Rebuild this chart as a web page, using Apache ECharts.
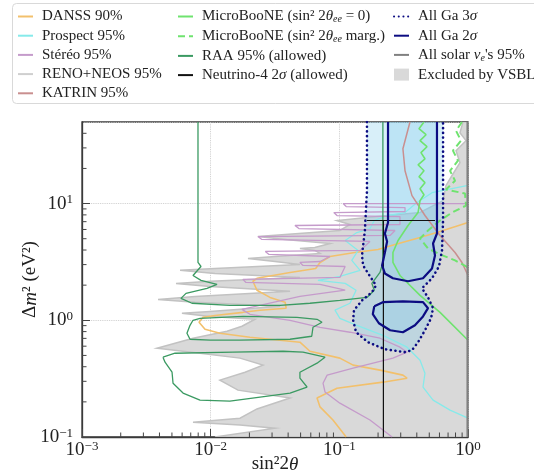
<!DOCTYPE html>
<html><head><meta charset="utf-8">
<script src="https://cdn.jsdelivr.net/npm/echarts@6/dist/echarts.min.js"></script>
<style>html,body{margin:0;padding:0;background:#fff}#c{width:534px;height:475px}</style>
</head><body><div id="c"></div>
<script>
// ---- data (sin^2 2theta , Delta m^2 [eV^2]) ----
const VSBL_X = [1.0,0.914,0.866,0.965,0.807,0.866,0.751,0.675,0.640,0.424,0.164,0.0959,0.121,0.101,0.0379,0.0233,0.0379,0.0846,0.0644,0.0494,0.0644,0.0708,0.0316,0.0195,0.0316,0.0494,0.0108,0.00578,0.0108,0.0494,0.00988,0.00538,0.00988,0.0414,0.00755,0.0039,0.00755,0.0346,0.00988,0.00598,0.00988,0.0221,0.0175,0.0134,0.00729,0.00383,0.00826,0.0169,0.0255,0.0185,0.0118,0.0163,0.0414,0.0229,0.0169,0.00729,0.0169,0.0316,0.0108,1.0];
const VSBL_Y = [50,50,40.4,34.6,28.4,22.4,17.4,14.3,10.6,8.38,7.59,7.16,6.62,5.88,5.43,5.22,4.93,4.55,4.21,4.13,3.97,3.74,3.52,3.39,3.19,3.01,2.78,2.68,2.52,2.33,2.16,2.07,1.95,1.77,1.60,1.51,1.43,1.32,1.19,1.15,1.08,1.02,0.889,0.805,0.702,0.576,0.522,0.474,0.413,0.359,0.307,0.252,0.216,0.174,0.145,0.134,0.127,0.119,0.1,0.1];

const GA3_X = [0.164,0.164,0.158,0.150,0.153,0.173,0.193,0.179,0.150,0.130,0.128,0.135,0.167,0.226,0.324,0.367,0.409,0.463,0.516,0.535,0.489,0.439,0.525,0.595,0.628,0.640,0.640];
const GA3_Y = [50,12.9,5.88,3.59,2.95,2.38,1.99,1.74,1.48,1.22,1.0,0.790,0.649,0.565,0.533,0.554,0.649,0.821,1.04,1.27,1.57,1.88,2.29,2.89,3.97,7.16,50];
const GA2A_X = [0.239,0.239,0.226,0.235,0.226,0.215,0.226,0.261,0.342,0.447,0.525,0.554,0.535,0.574,0.574,0.574];
const GA2A_Y = [50,6.88,5.54,4.74,3.81,2.95,2.52,2.29,2.16,2.29,2.78,3.59,4.55,5.54,7.16,50];
const GA2B_X = [0.187,0.218,0.312,0.447,0.489,0.447,0.387,0.312,0.248,0.203,0.182,0.187];
const GA2B_Y = [1.32,1.43,1.45,1.43,1.27,1.08,0.906,0.79,0.821,0.943,1.13,1.32];

const DANSS_X = [1.0,0.606,0.424,0.271,0.200,0.132,0.0846,0.0708,0.0655,0.0414,0.0229,0.0213,0.0229,0.0289,0.0379,0.0386,0.0242,0.0178,0.0108,0.00872,0.00812,0.00904,0.0118,0.0202,0.0494,0.0591,0.101,0.128,0.207,0.312,0.336,0.218,0.0959,0.0671,0.0708,0.0892,0.107,0.113];
const DANSS_Y = [6.88,5.76,5.12,4.46,4.04,3.81,3.52,3.13,2.78,2.57,2.29,2.16,1.81,1.57,1.43,1.27,1.22,1.17,1.10,1.06,0.962,0.838,0.774,0.716,0.649,0.543,0.474,0.413,0.374,0.339,0.319,0.295,0.262,0.216,0.181,0.140,0.108,0.1];

const PROSPECT_X = [1.0,0.525,0.402,0.324,0.235,0.187,0.173,0.137,0.111,0.140,0.125,0.145,0.101,0.0682,0.111,0.135,0.121,0.0925,0.101,0.137,0.218,0.336,0.424,0.463,0.447,0.535,0.725,1.0];
const PROSPECT_Y = [14.3,12.4,10.2,8.38,7.90,7.16,6.11,5.65,4.83,3.97,3.26,2.68,2.38,2.20,2.07,1.81,1.40,1.22,1.04,0.906,0.744,0.588,0.455,0.352,0.268,0.207,0.170,0.145];

const STEREO_X = [1.0,0.107,0.113,0.324,0.324,0.0906,0.0959,0.296,0.296,0.0452,0.0485,0.271,0.248,0.0233,0.0250,0.173,0.145,0.0266,0.0284,0.0846,0.0708,0.0494,0.0522,0.111,0.101,0.0178,0.0188,0.0708,0.111,0.0494,0.0175,0.0202,0.0414,0.0708,0.121,0.207,0.296,0.336,0.261,0.128,0.0804,0.0747,0.0774,0.101,0.173,0.257];
const STEREO_Y = [10,10,9.43,9.25,8.55,8.38,7.90,7.74,6.62,6.49,6.11,5.88,5.33,5.22,4.93,4.74,3.97,3.89,3.67,3.52,3.19,3.13,2.95,2.89,2.33,2.24,2.11,2.03,1.81,1.60,1.24,1.125,1.0,0.871,0.790,0.702,0.588,0.533,0.474,0.389,0.339,0.289,0.243,0.195,0.140,0.1];

const KATRIN_X = [0.354,0.312,0.324,0.367,0.463,0.606,0.793,0.898,1.0];
const KATRIN_Y = [50,29.5,19.1,11.7,7.90,5.33,3.81,3.13,2.42];

const UB0_X = [0.455,0.416,0.472,0.424,0.480,0.431,0.463,0.409,0.455,0.416,0.463,0.424,0.455,0.424,0.409,0.342,0.286,0.261,0.261,0.296,0.424,0.606,1.0];
const UB0_Y = [50,43.8,38.9,34.6,30.7,27.3,24.2,21.5,19.1,17.0,15.1,13.4,11.9,10.6,8.38,6.49,4.83,3.81,3.13,2.42,1.636,1.17,0.675];
const UBM_X = [0.898,0.807,0.882,0.764,0.836,0.725,0.793,0.675,0.948,0.965,0.751,0.606,0.489,0.424,0.489,0.606,0.793,1.0];
const UBM_Y = [50,42.1,34.6,28.4,23.3,19.1,15.7,13.2,12.2,9.62,8.38,7.16,5.88,5.02,4.13,3.67,3.26,2.84];

const RAA1_X = [0.00797,0.00797,0.00841,0.00729,0.00841,0.0112,0.00936,0.00643,0.00588,0.00716,0.0141,0.0346,0.0591,0.101,0.164,0.187,0.179,0.207,0.218,0.218];
const RAA1_Y = [50,3.13,2.89,2.42,2.20,2.03,1.88,1.70,1.54,1.40,1.34,1.34,1.40,1.48,1.57,1.81,2.07,2.57,3.13,50];
const RAA2_X = [0.00826,0.0178,0.0469,0.0671,0.0733,0.0624,0.0610,0.0414,0.0169,0.0099,0.00691,0.00654,0.00691,0.00729,0.00826];
const RAA2_Y = [1.04,1.08,1.06,1.02,0.962,0.871,0.730,0.688,0.675,0.675,0.688,0.774,0.906,1.0,1.04];
const RAA3_X = [0.00426,0.00528,0.0149,0.0365,0.0522,0.0774,0.0671,0.0494,0.0494,0.0561,0.0414,0.0242,0.0141,0.00826,0.0061,0.0051,0.00501,0.00442,0.00426];
const RAA3_Y = [0.483,0.522,0.533,0.543,0.533,0.483,0.429,0.359,0.319,0.268,0.238,0.220,0.203,0.207,0.238,0.289,0.359,0.438,0.483];

const N4_X = [0.164,0.554,0.22,0.22];
const N4_Y = [7.16,7.16,7.16,0.1];
const SOLAR_X = [0.99,0.99];
const SOLAR_Y = [0.1,50];

const X_RANGE = [0.001, 1];
const Y_RANGE = [0.1, 50];

// ---- helpers ----
function pairs(xs, ys){ return xs.map((x,i)=>[x, ys[i]]); }
const SERIF = "'Liberation Serif','Times New Roman',serif";

function line(name, xs, ys, color, width, type, z, cap){
  return {type:'line', name, data:pairs(xs,ys), symbol:'none', showSymbol:false, color,
    lineStyle:{color, width, type:type||'solid', cap:cap||'butt'}, clip:true, z:z||3, silent:true, animation:false};
}
function poly(name, xs, ys, fill, stroke, lw, z){
  return {type:'custom', name, coordinateSystem:'cartesian2d', data:[[xs[0],ys[0]]], clip:true, z:z||2, silent:true,
    itemStyle:{color:fill}, animation:false,
    renderItem:(params, api)=>({type:'polygon', shape:{points:xs.map((x,i)=>api.coord([x,ys[i]]))},
      style:{fill, stroke:stroke||'none', lineWidth:lw||0}})};
}
const X_MINOR = []; for (let e=-3;e<0;e++) for (let m=2;m<=9;m++) X_MINOR.push(m*Math.pow(10,e));
const Y_MINOR = []; for (let e=-1;e<2;e++) for (let m=2;m<=9;m++){ const v=m*Math.pow(10,e); if (v<Y_RANGE[1]) Y_MINOR.push(v); }

function expLabel(v){
  const e=Math.log10(v), r=Math.round(e);
  if (Math.abs(e-r)>1e-6) return '';
  return '{b|10}{s|'+(r<0?'\u2212'+(-r):r)+'}';
}
const tickRich = {b:{fontFamily:SERIF,fontSize:19,color:'#222',lineHeight:20},
                  s:{fontFamily:SERIF,fontSize:13,color:'#222',verticalAlign:'top',lineHeight:12}};

const legendRich = {
  t:{fontFamily:SERIF,fontSize:15,color:'#222',lineHeight:16},
  i:{fontFamily:SERIF,fontSize:15,fontStyle:'italic',color:'#222',lineHeight:16},
  sub:{fontFamily:SERIF,fontSize:10,fontStyle:'italic',color:'#222',lineHeight:6,verticalAlign:'bottom'}
};
const N_UB0 = 'MicroBooNE (sin² 2θee = 0)';
const N_UBM = 'MicroBooNE (sin² 2θee marg.)';
const N_N4 = 'Neutrino-4 2σ (allowed)';
const N_GA3 = 'All Ga 3σ', N_GA2 = 'All Ga 2σ';
const N_SOL = "All solar νe's 95%";
const legendFmt = {};
legendFmt[N_UB0] = '{t|MicroBooNE (sin² 2}{i|θ}{sub|ee}{t| = 0)}';
legendFmt[N_UBM] = '{t|MicroBooNE (sin² 2}{i|θ}{sub|ee}{t| marg.)}';
legendFmt[N_N4] = '{t|Neutrino-4 2}{i|σ}{t| (allowed)}';
legendFmt[N_GA3] = '{t|All Ga 3}{i|σ}';
legendFmt[N_GA2] = '{t|All Ga 2}{i|σ}';
legendFmt[N_SOL] = "{t|All solar }{i|ν}{sub|e}{t|'s 95%}";
function fmt(n){ return legendFmt[n] || ('{t|'+n+'}'); }
function legend(left, names){
  return {orient:'vertical', left, top:9, padding:0, itemGap:4.2, itemWidth:15, itemHeight:12,
    selectedMode:false, formatter:fmt, itemStyle:{opacity:0}, textStyle:{padding:[0,0,0,4], rich:legendRich}, data:names};
}

const GA = '#0c0c82';
const BLUE = 'rgba(135,206,235,0.32)';
const nameRich = {n:{fontFamily:SERIF,fontSize:19,color:'#222'},i:{fontFamily:SERIF,fontSize:19,fontStyle:'italic',color:'#222'}};

const option = {
  animation:false,
  backgroundColor:'#fff',
  grid:{left:82, right:66, top:122, bottom:38, show:true, borderColor:'#3a3a3a', borderWidth:1.3, outerBoundsMode:'none', containLabel:false},
  xAxis:{type:'log', logBase:10, min:X_RANGE[0], max:X_RANGE[1],
    name:'{n|sin²2}{i|θ}', nameLocation:'middle', nameGap:18, nameMoveOverlap:false,
    nameTextStyle:{rich:nameRich},
    axisLine:{show:true, lineStyle:{color:'#3a3a3a', width:1.3}},
    axisTick:{show:true, inside:true, length:8, lineStyle:{color:'#444', width:1}},
    minorTick:{show:false},
    splitLine:{show:true, lineStyle:{color:'#c8c8c8', type:'dotted', width:0.9}},
    axisLabel:{formatter:expLabel, margin:3, rich:tickRich, showMaxLabel:true, showMinLabel:true, hideOverlap:false}},
  yAxis:{type:'log', logBase:10, min:Y_RANGE[0], max:Y_RANGE[1],
    name:'{n|Δ}{i|m}{n|² (eV²)}', nameLocation:'middle', nameGap:42, nameRotate:90, nameMoveOverlap:false,
    nameTextStyle:{rich:nameRich},
    axisLine:{show:true, lineStyle:{color:'#3a3a3a', width:1.3}},
    axisTick:{show:true, inside:true, length:8, lineStyle:{color:'#444', width:1}},
    splitLine:{show:true, lineStyle:{color:'#c8c8c8', type:'dotted', width:0.9}},
    axisLabel:{formatter:expLabel, margin:9, rich:tickRich, showMaxLabel:false}},
  legend:[
    legend(17, ['DANSS 90%','Prospect 95%','Stéréo 95%','RENO+NEOS 95%','KATRIN 95%']),
    legend(177, [N_UB0, N_UBM, 'RAA 95% (allowed)', N_N4]),
    legend(393, [N_GA3, N_GA2, N_SOL, {name:'Excluded by VSBL', icon:'rect', itemStyle:{opacity:1, color:'#d9d9d9'}}])
  ],
  graphic:[{type:'rect', shape:{x:12.5, y:3.5, width:540, height:100, r:4}, style:{fill:'#fff', stroke:'#d9d9d9', lineWidth:1}, z:0, silent:true}],
  series:[
    poly('Excluded by VSBL', VSBL_X, VSBL_Y, '#d9d9d9', '#c2c2c2', 1.5, 1),
    poly('ga3fill', GA3_X, GA3_Y, BLUE, null, 0, 2),
    poly('ga2fillA', GA2A_X, GA2A_Y, BLUE, null, 0, 2),
    poly('ga2fillB', GA2B_X, GA2B_Y, BLUE, null, 0, 2),
    line('RENO+NEOS 95%', [], [], '#cfcfcf', 1.3),
    line('DANSS 90%', DANSS_X, DANSS_Y, '#f2c06c', 1.6),
    line('Prospect 95%', PROSPECT_X, PROSPECT_Y, '#86eaea', 1.3),
    line('Stéréo 95%', STEREO_X, STEREO_Y, '#c59bcb', 1.3),
    line('KATRIN 95%', KATRIN_X, KATRIN_Y, '#c98f8f', 1.5),
    line(N_UB0, UB0_X, UB0_Y, '#6fe36f', 1.6),
    line(N_UBM, UBM_X, UBM_Y, '#6fe36f', 2, [7,4]),
    line('RAA 95% (allowed)', RAA1_X, RAA1_Y, '#3b9a62', 1.3),
    line('RAA 95% (allowed)', RAA2_X, RAA2_Y, '#3b9a62', 1.3),
    line('RAA 95% (allowed)', RAA3_X, RAA3_Y, '#3b9a62', 1.3),
    line(N_N4, N4_X, N4_Y, '#111111', 1.2),
    line(N_SOL, SOLAR_X, SOLAR_Y, '#808080', 2),
    line(N_GA3, GA3_X, GA3_Y, GA, 2.6, [0.1,4.6], 5, 'round'),
    line(N_GA2, GA2A_X, GA2A_Y, GA, 2.2, 'solid', 5),
    line(N_GA2, GA2B_X, GA2B_Y, GA, 2.2, 'solid', 5),
    {type:'custom', name:'xminor', data:X_MINOR.map(v=>[v,Y_RANGE[0]]), silent:true, z:10, clip:false, animation:false,
      renderItem:(p,api)=>{const c=api.coord([api.value(0),Y_RANGE[0]]); return {type:'line', shape:{x1:c[0],y1:c[1],x2:c[0],y2:c[1]-4.5}, style:{stroke:'#444',lineWidth:1}};}},
    {type:'custom', name:'yminor', data:Y_MINOR.map(v=>[X_RANGE[0],v]), silent:true, z:10, clip:false, animation:false,
      renderItem:(p,api)=>{const c=api.coord([X_RANGE[0],api.value(1)]); return {type:'line', shape:{x1:c[0],y1:c[1],x2:c[0]+4.5,y2:c[1]}, style:{stroke:'#444',lineWidth:1}};}}
  ]
};
const chart = echarts.init(document.getElementById('c'), null, {renderer:'canvas', width:534, height:475});
chart.setOption(option);
</script></body></html>
